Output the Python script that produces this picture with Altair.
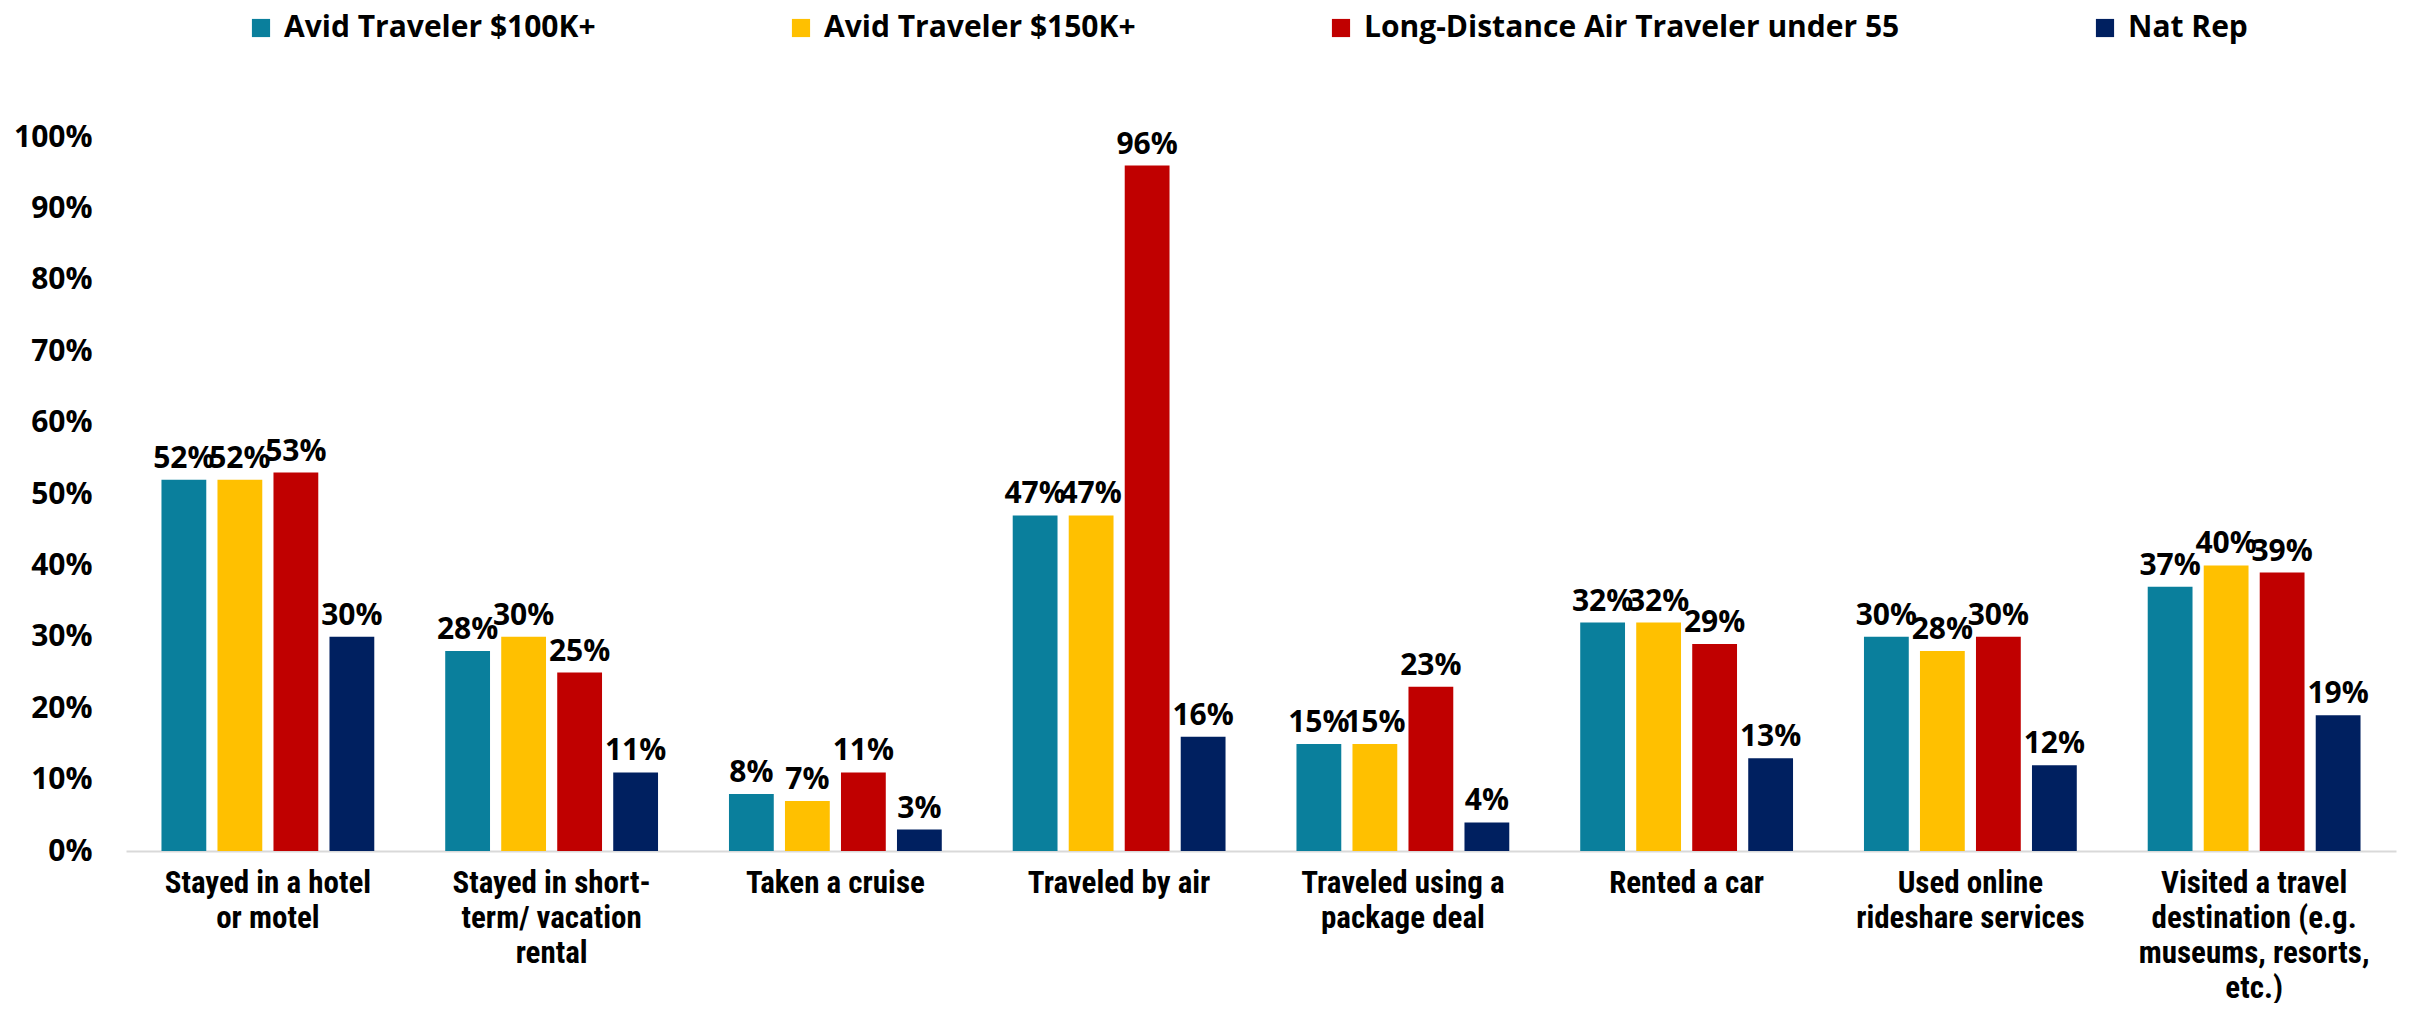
import altair as alt
import pandas as pd

categories = [
    "Stayed in a hotel|or motel",
    "Stayed in short-|term/ vacation|rental",
    "Taken a cruise",
    "Traveled by air",
    "Traveled using a|package deal",
    "Rented a car",
    "Used online|rideshare services",
    "Visited a travel|destination (e.g.|museums, resorts,|etc.)",
]
series = [
    "Avid Traveler $100K+",
    "Avid Traveler $150K+",
    "Long-Distance Air Traveler under 55",
    "Nat Rep",
]
colors = ["#0A7F9C", "#FFC000", "#C00000", "#002060"]

avid_100k = [52, 28, 8, 47, 15, 32, 30, 37]
avid_150k = [52, 30, 7, 47, 15, 32, 28, 40]
long_air = [53, 25, 11, 96, 23, 29, 30, 39]
nat_rep = [30, 11, 3, 16, 4, 13, 12, 19]

values = [avid_100k, avid_150k, long_air, nat_rep]
rows = []
for s, vals in zip(series, values):
    for c, v in zip(categories, vals):
        rows.append({"category": c, "series": s, "value": v / 100})
df = pd.DataFrame(rows)

NARROW = "Liberation Sans Narrow, Roboto Condensed, Liberation Sans, sans-serif"
WIDE = "Open Sans, DejaVu Sans, sans-serif"

x = alt.X(
    "category:N",
    sort=categories,
    scale=alt.Scale(paddingInner=0.25, paddingOuter=0.125),
    axis=alt.Axis(
        title=None,
        labelAngle=0,
        labelExpr="split(datum.label, '|')",
        labelFont=NARROW,
        labelFontSize=31,
        labelFontWeight="bold",
        labelColor="#000000",
        labelLineHeight=35,
        labelPadding=17,
        labelLimit=400,
        ticks=False,
        domainColor="#D9D9D9",
        domainWidth=2,
    ),
)
xo = alt.XOffset("series:N", sort=series, scale=alt.Scale(paddingInner=0.2))
y = alt.Y(
    "value:Q",
    scale=alt.Scale(domain=[0, 1]),
    axis=alt.Axis(
        title=None,
        format=".0%",
        values=[i / 10 for i in range(11)],
        labelFont=WIDE,
        labelFontSize=30,
        labelFontWeight="bold",
        labelColor="#000000",
        labelPadding=34,
        grid=False,
        ticks=False,
        domain=False,
    ),
)
color = alt.Color(
    "series:N",
    sort=series,
    scale=alt.Scale(domain=series, range=colors),
    legend=alt.Legend(
        title=None,
        orient="none",
        direction="horizontal",
        legendX=120,
        legendY=-124,
        labelFont=WIDE,
        labelFontSize=30,
        labelFontWeight="bold",
        labelColor="#000000",
        labelLimit=800,
        symbolType="square",
        symbolSize=330,
        symbolStrokeWidth=0,
        symbolOpacity=1,
        labelOffset=8,
        columnPadding=190,
    ),
)

base = alt.Chart(df)
bars = base.mark_bar().encode(x=x, xOffset=xo, y=y, color=color)
labels = base.mark_text(
    baseline="bottom", dy=-6, font=WIDE, fontSize=30, fontWeight="bold", color="#000000"
).encode(x=x, xOffset=xo, y=y, text=alt.Text("value:Q", format=".0%"))

chart = (
    alt.layer(bars, labels)
    .properties(width=2270, height=714, padding={"left": 5, "top": 5, "right": 5, "bottom": 0})
    .configure(background="#FFFFFF", view=alt.ViewConfig(stroke="transparent", strokeWidth=0))
)

chart.save("out.html", embed_options={"renderer": "svg", "actions": False})
